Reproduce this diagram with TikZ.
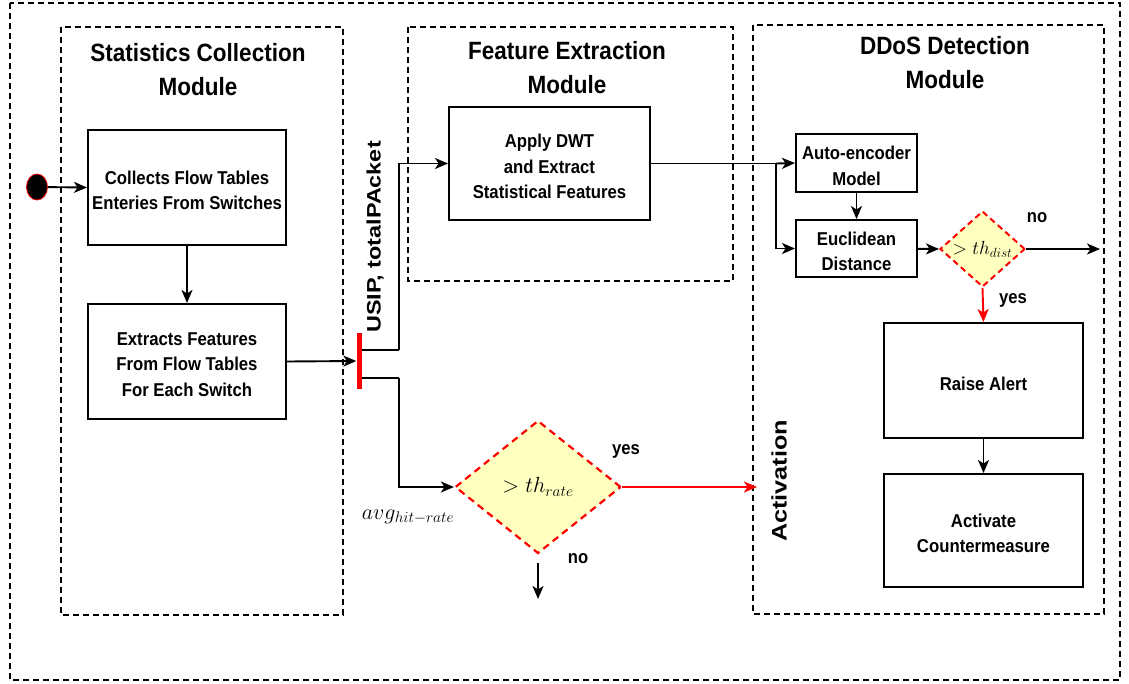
\documentclass[tikz,border=0pt]{standalone}
\usepackage{fix-cm}
\usepackage{fontspec}
\setmainfont{Liberation Sans}[FakeStretch=0.9]
\newfontfamily\widesf{Liberation Sans}[FakeStretch=1.2]
\usetikzlibrary{arrows.meta,shapes.geometric,calc}
\definecolor{decfill}{RGB}{255,255,192}
\tikzset{
  module/.style={draw, line width=1.5pt, dash pattern=on 6pt off 4pt},
  stepbox/.style={draw, line width=2pt, inner sep=0pt},
  boxtext/.style={align=center, inner sep=0pt,
    font=\bfseries\fontsize{18.6}{25.5}\selectfont},
  title/.style={align=center, font=\bfseries\fontsize{25}{34}\selectfont},
  decision/.style={diamond, draw=red, fill=decfill, line width=2.2pt,
    dash pattern=on 7pt off 5pt, inner sep=0pt},
  flow/.style={line width=1.9pt, -{Stealth[length=13pt,width=11pt,inset=3.5pt]}},
  redflow/.style={flow, draw=red},
  lbl/.style={font=\bfseries\fontsize{18.5}{22}\selectfont},
}
\newcommand{\boxlabel}[2]{\node[boxtext] (#1txt) at ([yshift=-3pt]#1.center) {#2};}
\begin{document}
\begin{tikzpicture}[x=1pt,y=-1pt]
\useasboundingbox (0,0) rectangle (1129,683);

% module frames
\draw[module] (10,3) rectangle (1120,680);
\draw[module] (61,27) rectangle (343,615);
\draw[module] (408,27) rectangle (733,281);
\draw[module] (753,25) rectangle (1104,614);

\node[title] (tstat) at (198,70) {Statistics Collection\\Module};
\node[title] (tfeat) at (567,68) {Feature Extraction\\Module};
\node[title] (tddos) at (945,62.5) {DDoS Detection\\Module};

% statistics collection
\node[ellipse, draw=red, fill=black, line width=0.8pt, minimum width=21pt, minimum height=26pt, inner sep=0pt] (start) at (37,187) {};
\node[stepbox, minimum width=198pt, minimum height=115pt] (collect) at (187,187.5) {};
\boxlabel{collect}{Collects Flow Tables\\Enteries From Switches}
\node[stepbox, minimum width=198pt, minimum height=115pt] (extract) at (187,361.5) {};
\boxlabel{extract}{Extracts Features\\From Flow Tables\\For Each Switch}
\node[fill=red, minimum width=5pt, minimum height=56pt, inner sep=0pt] (bar) at (359,361) {};

% feature extraction
\node[stepbox, minimum width=201pt, minimum height=113pt] (dwt) at (549.5,163.5) {};
\boxlabel{dwt}{Apply DWT\\and Extract\\Statistical Features}
\node[rotate=90, font=\widesf\bfseries\fontsize{19.5}{24}\selectfont] (usip) at (375,237) {USIP, totalPAcket};

% rate check
\node[decision, minimum width=166pt, minimum height=133pt] (drate) at (538,487) {\fontsize{22}{26}\selectfont$>th_{rate}$};
\node[font=\fontsize{22}{26}\selectfont] (avg) at (408,517) {$avg_{hit-rate}$};
\node[lbl] (yrate) at (626,451) {yes};
\node[lbl] (nrate) at (578,559) {no};
\coordinate (nrs) at (538,563);
\coordinate (nre) at (538,599);
\coordinate (act) at (757,487);
\node[rotate=90, font=\widesf\bfseries\fontsize{21}{26}\selectfont] (activation) at (779,481) {Activation};

% ddos detection
\node[stepbox, minimum width=121pt, minimum height=58pt] (auto) at (856.5,163) {};
\boxlabel{auto}{Auto-encoder\\Model}
\node[stepbox, minimum width=121pt, minimum height=57pt] (eucl) at (856.5,248.5) {};
\boxlabel{eucl}{Euclidean\\Distance}
\node[decision, minimum width=85pt, minimum height=66pt, line width=2pt, dash pattern=on 6pt off 4pt] (ddist) at (982.5,249) {\fontsize{19}{22}\selectfont$>th_{dist}$};
\node[lbl] (ndist) at (1037,218) {no};
\node[lbl] (ydist) at (1013,300) {yes};
\coordinate (nde) at (1100,249);
\node[stepbox, minimum width=199pt, minimum height=115pt] (alert) at (983.5,380.5) {};
\boxlabel{alert}{Raise Alert}
\node[stepbox, minimum width=199pt, minimum height=113pt] (counter) at (983.5,530.5) {};
\boxlabel{counter}{Activate\\Countermeasure}

% connectors
\draw[flow] (start) -- (collect.west);
\draw[flow] (collect) -- (extract);
\draw[flow] (extract.east) -- (bar.west);
\coordinate (split) at (776,163.5);
\draw[line width=1.9pt] ($(bar.east)+(0,-11)$) -- ++(37,0) coordinate (up);
\draw[flow] (up) |- (dwt.west);
\draw[line width=1.9pt] ($(bar.east)+(0,17)$) -- ++(37,0) coordinate (down);
\draw[flow] (down) |- (drate.west);
\draw[line width=1.9pt] (dwt.east) -- (split);
\draw[flow] (split) -- (auto.west);
\draw[flow] (split) |- (eucl.west);
\draw[flow] (auto) -- (eucl);
\draw[flow] (eucl) -- (ddist.west);
\draw[flow] (ddist.east) -- (nde);
\draw[redflow] (ddist.south) -- (alert.north);
\draw[flow] (alert) -- (counter);
\draw[redflow] (drate.east) -- (act);
\draw[flow] (nrs) -- (nre);
\end{tikzpicture}
\end{document}
